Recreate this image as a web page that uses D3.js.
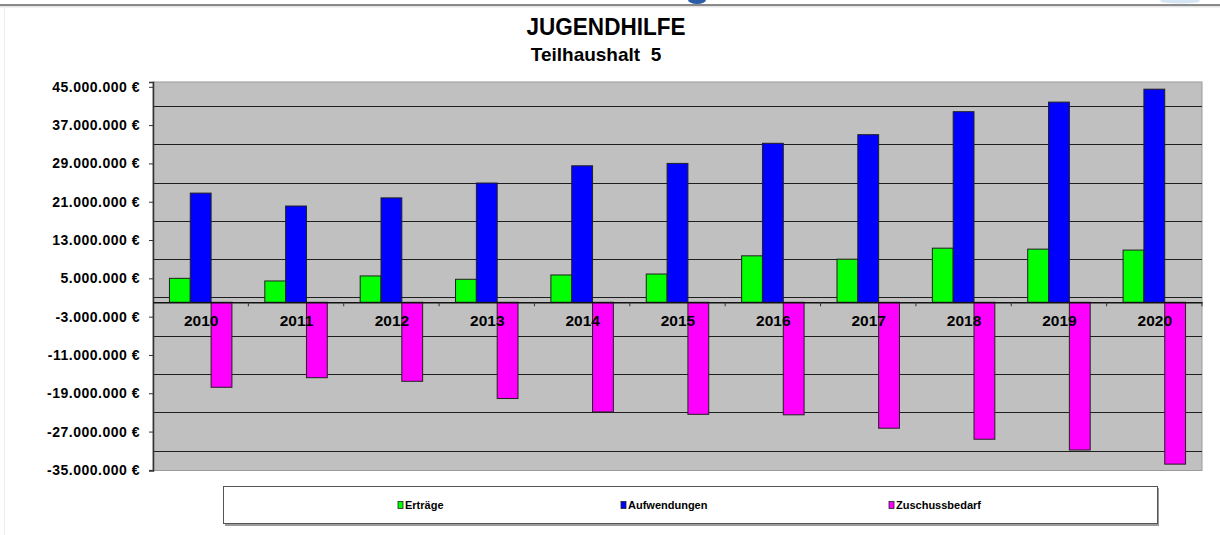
<!DOCTYPE html>
<html>
<head>
<meta charset="utf-8">
<script src="https://cdn.jsdelivr.net/npm/d3@7"></script>
<style>
  html, body { margin: 0; padding: 0; background: #fff; }
  svg { display: block; font-family: "Liberation Sans", Arial, sans-serif; }
</style>
</head>
<body>
<svg id="chart" width="1220" height="535"></svg>
<script>
// ---- data (values in euro) ----
const years = ["2010","2011","2012","2013","2014","2015","2016","2017","2018","2019","2020"];
const seriesNames = ["Erträge", "Aufwendungen", "Zuschussbedarf"];
const seriesColors = ["#00FF00", "#0000FF", "#FF00FF"];
const ertraege      = [5.0e6, 4.45e6, 5.5e6, 4.8e6, 5.7e6, 5.9e6, 9.7e6, 9.0e6, 11.3e6, 11.1e6, 10.9e6];
const aufwendungen  = [22.8e6, 20.1e6, 21.8e6, 24.9e6, 28.5e6, 29.0e6, 33.2e6, 35.0e6, 39.8e6, 41.8e6, 44.5e6];
const zuschuss      = [-17.75e6, -15.75e6, -16.5e6, -20.1e6, -22.9e6, -23.4e6, -23.5e6, -26.3e6, -28.6e6, -30.85e6, -33.8e6];
const tickValues = [45e6, 37e6, 29e6, 21e6, 13e6, 5e6, -3e6, -11e6, -19e6, -27e6, -35e6];
const tickLabels = ["45.000.000 €","37.000.000 €","29.000.000 €","21.000.000 €","13.000.000 €","5.000.000 €",
                    "-3.000.000 €","-11.000.000 €","-19.000.000 €","-27.000.000 €","-35.000.000 €"];
const titleText = "JUGENDHILFE";
const subtitleText = "Teilhaushalt  5";

const allSeries = [ertraege, aufwendungen, zuschuss];
const rows = years.map((yr, i) => ({ year: yr, vals: seriesNames.map((s, k) => ({ key: s, value: allSeries[k][i], color: seriesColors[k] })) }));

const svg = d3.select("#chart");
svg.append("rect").attr("width", 1220).attr("height", 535).attr("fill", "#fff");

// page decoration (header rule and left rule)
svg.append("ellipse").attr("cx", 697).attr("cy", 0).attr("rx", 9).attr("ry", 4).attr("fill", "#2a5ca8");
svg.append("ellipse").attr("cx", 1180).attr("cy", 1).attr("rx", 20).attr("ry", 2.5).attr("fill", "#d6e5f3");
svg.append("line").attr("x1", 0).attr("x2", 1220).attr("y1", 5).attr("y2", 5).attr("stroke", "#8a8a8a").attr("stroke-width", 2);
svg.append("line").attr("x1", 0).attr("x2", 1220).attr("y1", 6.8).attr("y2", 6.8).attr("stroke", "#d8d8d8").attr("stroke-width", 1);
svg.append("line").attr("x1", 4.5).attr("x2", 4.5).attr("y1", 7).attr("y2", 535).attr("stroke", "#ececec").attr("stroke-width", 1);

// titles
svg.append("text").attr("x", 606).attr("y", 35).attr("text-anchor", "middle")
  .attr("font-size", 24).attr("font-weight", "bold").attr("textLength", 159).attr("lengthAdjust", "spacingAndGlyphs")
  .text(titleText);
svg.append("text").attr("x", 596).attr("y", 61).attr("text-anchor", "middle")
  .attr("font-size", 19).attr("font-weight", "bold").style("white-space", "pre")
  .text(subtitleText);

// scales
const plot = { left: 153, right: 1202, top: 82, bottom: 470.5 };
const x = d3.scaleBand().domain(years).range([plot.left, plot.right]).paddingInner(0).paddingOuter(0);
const x1 = d3.scaleBand().domain(seriesNames).range([0, x.bandwidth()]).paddingInner(0).paddingOuter(0.79);
const y = d3.scaleLinear().domain([-35.13e6, 46.0e6]).range([plot.bottom, plot.top]);

// plot area
svg.append("rect").attr("x", plot.left).attr("y", plot.top)
  .attr("width", plot.right - plot.left).attr("height", plot.bottom - plot.top)
  .attr("fill", "#C0C0C0").attr("stroke", "#9a9a9a").attr("stroke-width", 1);

// gridlines (between tick positions)
const gridValues = d3.pairs(tickValues).map(([a, b]) => (a + b) / 2);
svg.append("g").selectAll("line").data(gridValues).join("line")
  .attr("x1", plot.left).attr("x2", plot.right)
  .attr("y1", d => Math.round(y(d)) + 0.5).attr("y2", d => Math.round(y(d)) + 0.5)
  .attr("stroke", "#1e1e1e").attr("stroke-width", 1.2);

// y axis
const yAxis = d3.axisLeft(y).tickValues(tickValues).tickSize(4).tickPadding(9)
  .tickFormat((d, i) => tickLabels[i]);
const gy = svg.append("g").attr("transform", `translate(${plot.left},0)`).call(yAxis);
gy.select(".domain").attr("stroke", "#333").attr("stroke-width", 1.5);
gy.selectAll(".tick line").attr("stroke", "#333");
gy.selectAll(".tick text").attr("font-size", 14).attr("font-weight", "bold")
  .attr("font-family", "'Liberation Sans', Arial, sans-serif").attr("fill", "#000")
  .style("letter-spacing", "0.5px");

// bars
const groups = svg.append("g").selectAll("g").data(rows).join("g")
  .attr("transform", d => `translate(${x(d.year)},0)`);
groups.selectAll("rect").data(d => d.vals).join("rect")
  .attr("x", d => x1(d.key))
  .attr("width", x1.bandwidth())
  .attr("y", d => y(Math.max(0, d.value)))
  .attr("height", d => Math.abs(y(d.value) - y(0)))
  .attr("fill", d => d.color)
  .attr("stroke", "#202020").attr("stroke-width", 1);

// category axis at zero
const xAxis = d3.axisBottom(x).tickSize(0).tickPadding(0).tickFormat("");
const gx = svg.append("g").attr("transform", `translate(0,${y(0)})`).call(xAxis);
gx.select(".domain").attr("stroke", "#111").attr("stroke-width", 1.5);
gx.selectAll(".tick").remove();
// boundary tick marks
const boundaries = years.map(yr => x(yr) + x.step()).filter(v => v <= plot.right + 1);
gx.selectAll("line.bt").data(boundaries).join("line").attr("class", "bt")
  .attr("x1", d => d).attr("x2", d => d).attr("y1", 0).attr("y2", 4)
  .attr("stroke", "#333").attr("stroke-width", 1);
// category labels (drawn over bars)
svg.append("g").selectAll("text").data(years).join("text")
  .attr("x", d => x(d) + x.bandwidth() / 2 + 0.5)
  .attr("y", y(0) + 24)
  .attr("text-anchor", "middle")
  .attr("font-size", 15.5).attr("font-weight", "bold").attr("fill", "#000")
  .text(d => d);

// legend
const legend = svg.append("g");
legend.append("rect").attr("x", 225).attr("y", 488).attr("width", 934).attr("height", 38).attr("fill", "#9a9a9a");
legend.append("rect").attr("x", 223.5).attr("y", 486.5).attr("width", 934).attr("height", 37)
  .attr("fill", "#fff").attr("stroke", "#555").attr("stroke-width", 1);
const legendX = [398, 621, 889];
const li = legend.selectAll("g.item").data(seriesNames).join("g").attr("class", "item")
  .attr("transform", (d, i) => `translate(${legendX[i]},505)`);
li.append("rect").attr("x", 0).attr("y", -3.5).attr("width", 5).attr("height", 7)
  .attr("fill", (d, i) => seriesColors[i]).attr("stroke", "#222").attr("stroke-width", 0.8);
li.append("text").attr("x", 7).attr("y", 4).attr("font-size", 11).attr("font-weight", "bold")
  .attr("fill", "#000").text(d => d);
</script>
</body>
</html>
